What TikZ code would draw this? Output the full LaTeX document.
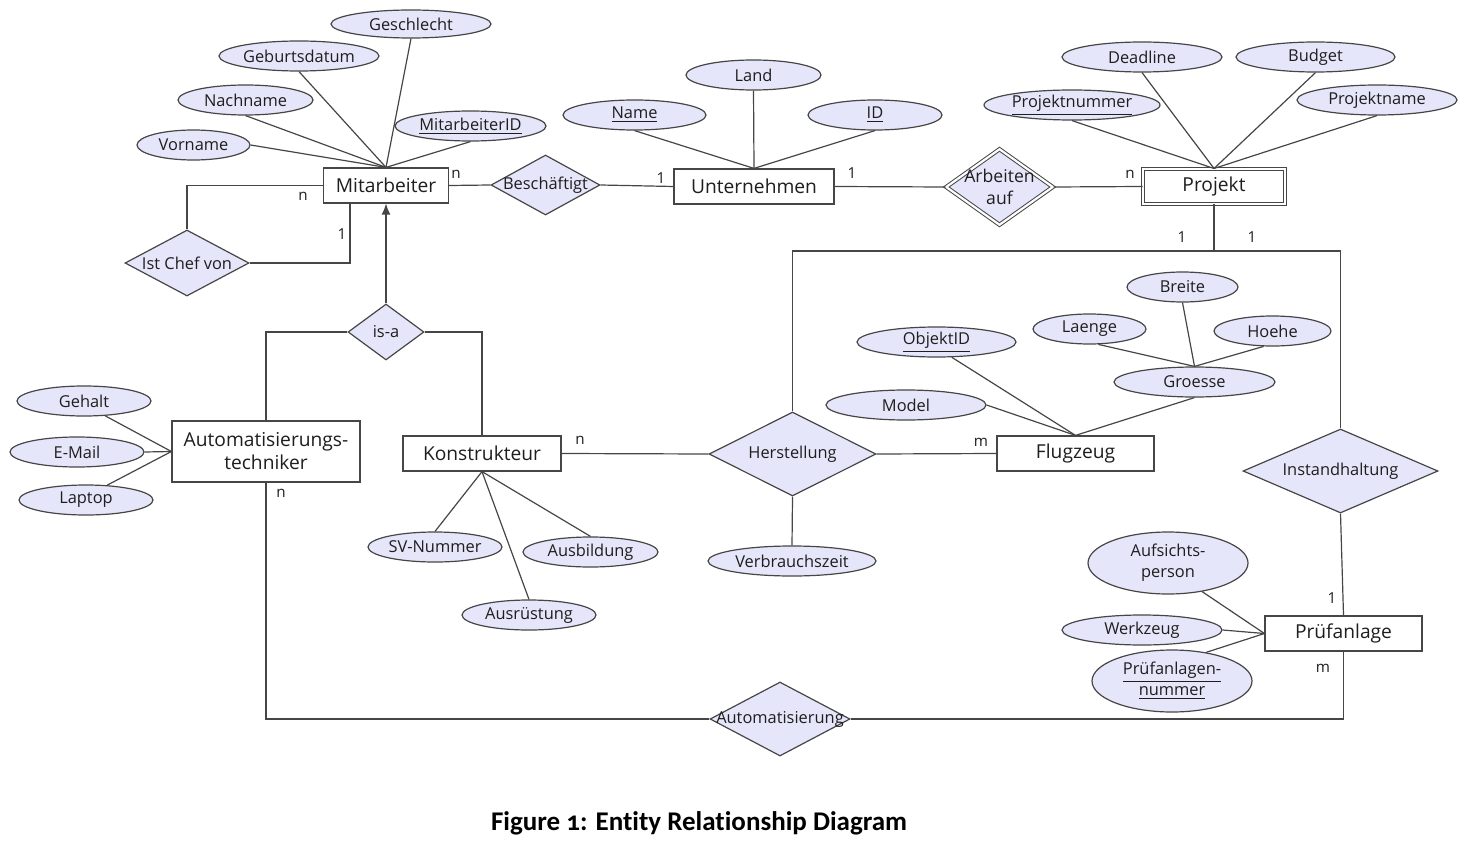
\documentclass[tikz,border=0pt]{standalone}
\usepackage{fontspec}
\setmainfont{Open Sans}
\newfontfamily\capfont[Ligatures=NoCommon,Numbers=OldStyle]{Carlito}
\usetikzlibrary{shapes.geometric,arrows.meta}
\definecolor{lav}{RGB}{230,230,250}
\definecolor{linec}{RGB}{70,70,70}
\definecolor{txt}{RGB}{30,30,30}
\begin{document}
\begin{tikzpicture}[x=0.5pt,y=-0.5pt,
  every node/.style={text=txt},
  ent/.style={rectangle,draw=linec,fill=white,line width=0.6pt,inner sep=0pt,align=center,font=\fontsize{9.6}{11.5}\selectfont},
  rel/.style={diamond,draw=linec,fill=lav,line width=0.6pt,inner sep=0pt},
  rtext/.style={font=\fontsize{8.2}{10.5}\selectfont,align=center,inner sep=0pt},
  attr/.style={ellipse,draw=linec,fill=lav,line width=0.6pt,inner sep=0pt,align=center,font=\fontsize{8.2}{10.5}\selectfont},
  card/.style={font=\fontsize{7.6}{8}\selectfont,inner sep=0pt},
  conn/.style={draw=linec,line width=0.6pt},
  dbl/.style={double=white,double distance=1.1pt,line width=0.5pt}
]
\useasboundingbox (0,0) rectangle (1476,845);

% entities
\node[ent,minimum width=62.5pt,minimum height=17.5pt] (mit) at (386,185.5) {Mitarbeiter};
\node[ent,minimum width=80pt,minimum height=17.5pt] (unt) at (754,186.5) {Unternehmen};
\node[ent,dbl,minimum width=71pt,minimum height=17.5pt] (proj) at (1214,186.5) {Projekt};
\node[ent,minimum width=94pt,minimum height=30.5pt] (auto) at (266,451.5) {Automatisierungs-\\techniker};
\node[ent,minimum width=79pt,minimum height=17.5pt] (kon) at (482,453.5) {Konstrukteur};
\node[ent,minimum width=78.5pt,minimum height=17.5pt] (flug) at (1075.5,453.5) {Flugzeug};
\node[ent,minimum width=78.5pt,minimum height=17.5pt] (pruef) at (1343.5,633.5) {Prüfanlage};

% relationships
\node[rel,minimum width=54.5pt,minimum height=30pt] (besch) at (545.5,185) {};
\node[rtext] (beschT) at (545.5,185) {Beschäftigt};
\node[rel,dbl,minimum width=53.5pt,minimum height=38pt] (arb) at (999.5,187) {};
\node[rtext,font=\fontsize{8.8}{11}\selectfont] (arbT) at (999.5,187) {Arbeiten\\auf};
\node[rel,minimum width=62pt,minimum height=33pt] (chef) at (187,263) {};
\node[rtext] (chefT) at (187,263) {Ist Chef von};
\node[rel,minimum width=38pt,minimum height=28pt] (isa) at (386,332) {};
\node[rtext] (isaT) at (386,332) {is-a};
\node[rel,minimum width=83.5pt,minimum height=42pt] (her) at (792.5,454) {};
\node[rtext] (herT) at (792.5,454) {Herstellung};
\node[rel,minimum width=97.5pt,minimum height=42pt] (inst) at (1340.5,471) {};
\node[rtext] (instT) at (1340.5,471) {Instandhaltung};
\node[rel,minimum width=70pt,minimum height=37pt] (aut) at (780,719) {};
\node[rtext] (autT) at (780,719) {Automatisierung};

% attributes
\node[attr,minimum width=80pt,minimum height=14pt] (gesch) at (411,24) {Geschlecht};
\node[attr,minimum width=80pt,minimum height=15pt] (geb) at (299,56) {Geburtsdatum};
\node[attr,minimum width=67.5pt,minimum height=15pt] (nach) at (245.5,100) {Nachname};
\node[attr,minimum width=56.5pt,minimum height=15pt] (vor) at (193.5,145) {Vorname};
\node[attr,minimum width=75.5pt,minimum height=15pt] (mid) at (470.5,126) {\underline{MitarbeiterID}};
\node[attr,minimum width=67.5pt,minimum height=15pt] (land) at (753.5,75) {Land};
\node[attr,minimum width=71.5pt,minimum height=15pt] (name) at (634.5,115) {\underline{Name}};
\node[attr,minimum width=67pt,minimum height=15pt] (id) at (875,115) {\underline{ID}};
\node[attr,minimum width=80pt,minimum height=15pt] (dead) at (1142,57) {Deadline};
\node[attr,minimum width=79.5pt,minimum height=15pt] (bud) at (1315.5,57) {Budget};
\node[attr,minimum width=88pt,minimum height=15pt] (pnr) at (1072,105) {\underline{Projektnummer}};
\node[attr,minimum width=80pt,minimum height=15pt] (pname) at (1377,100) {Projektname};
\node[attr,minimum width=55.5pt,minimum height=15pt] (breite) at (1182.5,287) {Breite};
\node[attr,minimum width=56.5pt,minimum height=15pt] (laenge) at (1089.5,329) {Laenge};
\node[attr,minimum width=58.5pt,minimum height=15pt] (hoehe) at (1272.5,331) {Hoehe};
\node[attr,minimum width=79.5pt,minimum height=15pt] (oid) at (936.5,342) {\underline{ObjektID}};
\node[attr,minimum width=80.5pt,minimum height=15pt] (groe) at (1194.5,382) {Groesse};
\node[attr,minimum width=80pt,minimum height=15pt] (model) at (906,405) {Model};
\node[attr,minimum width=67pt,minimum height=15pt] (gehalt) at (84,401) {Gehalt};
\node[attr,minimum width=67pt,minimum height=15pt] (email) at (77,452) {E-Mail};
\node[attr,minimum width=67pt,minimum height=15pt] (laptop) at (86,500) {Laptop};
\node[attr,minimum width=67pt,minimum height=15pt] (sv) at (435,547) {SV-Nummer};
\node[attr,minimum width=67.5pt,minimum height=15pt] (ausb) at (590.5,552) {Ausbildung};
\node[attr,minimum width=67pt,minimum height=15pt] (ausr) at (529,615) {Ausrüstung};
\node[attr,minimum width=84pt,minimum height=15pt] (verb) at (792,561) {Verbrauchszeit};
\node[attr,minimum width=80pt,minimum height=31pt] (aufs) at (1168,563) {Aufsichts-\\person};
\node[attr,minimum width=80pt,minimum height=15pt] (werk) at (1142,630) {Werkzeug};
\node[attr,minimum width=80pt,minimum height=31pt] (pan) at (1172,681) {\underline{Prüfanlagen-}\\\underline{nummer}};

% attribute connectors
\foreach \a in {gesch,geb,nach,mid} \draw[conn] (\a.south) -- (mit.north);
\draw[conn] (vor.east) -- (mit.north);
\foreach \a in {land,name,id} \draw[conn] (\a.south) -- (unt.north);
\foreach \a in {dead,bud,pnr,pname} \draw[conn] (\a.south) -- (proj.north);
\draw[conn] (breite.south) -- (groe.north);
\draw[conn] (laenge.-60) -- (groe.north);
\draw[conn] (hoehe.-120) -- (groe.north);
\draw[conn] (oid.-45) -- (flug.north);
\draw[conn] (model.east) -- (flug.north);
\draw[conn] (groe.south) -- (flug.north);
\draw[conn] (gehalt.-35) -- (auto.west);
\draw[conn] (email.east) -- (auto.west);
\draw[conn] (laptop.35) -- (auto.west);
\foreach \a in {sv,ausb,ausr} \draw[conn] (\a.north) -- (kon.south);
\draw[conn] (aufs.-40) -- (pruef.west);
\draw[conn] (werk.east) -- (pruef.west);
\draw[conn] (pan.40) -- (pruef.west);

% relationship connectors
\draw[conn] (mit.east) -- (besch.west);
\draw[conn] (besch.east) -- (unt.west);
\draw[conn] (unt.east) -- (arb.west);
\draw[conn] (arb.east) -- (proj.west);
\draw[conn] (chef.north) |- (mit.west);
\draw[conn] (chef.east) -| ([xshift=13.5pt]mit.south west);
\draw[conn,-{Latex[length=5.5pt,width=4.5pt]}] (isa.north) -- (mit.south);
\draw[conn] (isa.west) -| (auto.north);
\draw[conn] (isa.east) -| (kon.north);
\draw[conn] (kon.east) -- (her.west);
\draw[conn] (her.east) -- (flug.west);
\coordinate (pj) at (1214,251);
\draw[conn] (proj.south) -- (pj);
\draw[conn] (pj) -| (her.north);
\draw[conn] (pj) -| (inst.north);
\draw[conn] (her.south) -- (verb.north);
\draw[conn] (inst.south) -- (pruef.north);
\draw[conn] (auto.south) |- (aut.west);
\draw[conn] (aut.east) -| (pruef.south);

% cardinalities
\node[card] (c1) at (456,174) {n};
\node[card] (c2) at (303,196) {n};
\node[card] (c3) at (342,234) {1};
\node[card] (c4) at (661,178) {1};
\node[card] (c5) at (852,173) {1};
\node[card] (c6) at (1130,174) {n};
\node[card] (c7) at (1182,237) {1};
\node[card] (c8) at (1252,237) {1};
\node[card] (c9) at (580,440) {n};
\node[card] (c10) at (981,442) {m};
\node[card] (c11) at (281,493) {n};
\node[card] (c12) at (1332,598) {1};
\node[card] (c13) at (1323,668) {m};

% caption
\node[font=\capfont\bfseries\fontsize{13.5}{15}\selectfont,text=black] (cap) at (699,823) {Figure 1: Entity Relationship Diagram};
\end{tikzpicture}
\end{document}
